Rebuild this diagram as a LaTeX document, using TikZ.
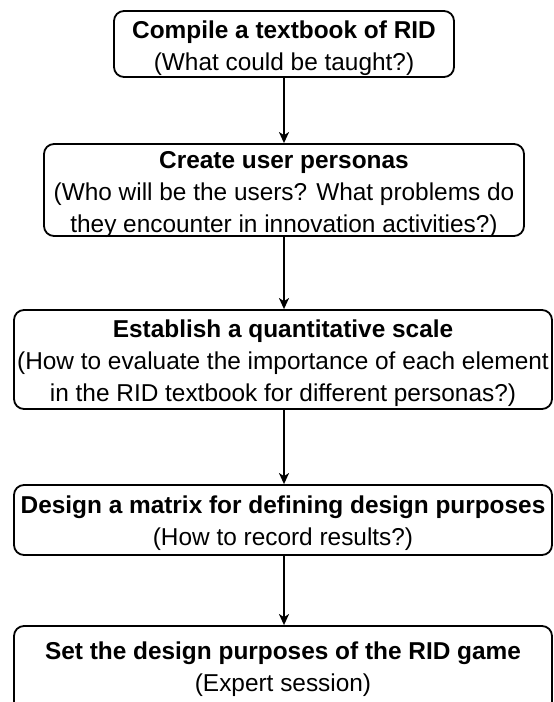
\documentclass[tikz,border=0pt]{standalone}
\usepackage{fontspec}
\setmainfont{Liberation Sans}
\usetikzlibrary{arrows.meta}
\begin{document}
\begin{tikzpicture}[x=1pt,y=1pt,
  stepbox/.style={draw=black, line width=1.8pt, rounded corners=10pt, inner sep=0pt},
  steptext/.style={inner sep=0pt, align=center, font=\fontsize{24.4pt}{32pt}\selectfont},
  flow/.style={line width=1.8pt, -{Stealth[length=11pt,width=10pt,inset=3pt]}}]
\useasboundingbox (0,0) rectangle (554,-702);
\clip (0,0) rectangle (554,-702);
\node[stepbox, minimum width=340pt, minimum height=66pt] (b1) at (284,-44) {};
\node[stepbox, minimum width=480pt, minimum height=92pt] (b2) at (284,-190) {};
\node[stepbox, minimum width=538pt, minimum height=99pt] (b3) at (283,-359.5) {};
\node[stepbox, minimum width=538pt, minimum height=70pt] (b4) at (283,-520) {};
\node[stepbox, minimum width=538pt, minimum height=92pt] (b5) at (283,-672) {};
\node[steptext] (t1) at ([yshift=-4pt]b1.center)
  {\textbf{Compile a textbook of RID}\\(What could be taught?)};
\node[steptext] (t2) at ([yshift=-5pt]b2.center)
  {\textbf{Create user personas}\\(Who will be the users? What problems do\\they encounter in innovation activities?)};
\node[steptext] (t3) at ([yshift=-4pt]b3.center)
  {\textbf{Establish a quantitative scale}\\(How to evaluate the importance of each element\\in the RID textbook for different personas?)};
\node[steptext] (t4) at ([yshift=-3pt]b4.center)
  {\textbf{Design a matrix for defining design purposes}\\(How to record results?)};
\node[steptext] (t5) at ([yshift=3pt]b5.center)
  {\textbf{Set the design purposes of the RID game}\\(Expert session)};
\draw[flow] (b1.south) -- (b1.south |- b2.north);
\draw[flow] (b2.south) -- (b2.south |- b3.north);
\draw[flow] (b2.south |- b3.south) -- (b2.south |- b4.north);
\draw[flow] (b2.south |- b4.south) -- (b2.south |- b5.north);
\end{tikzpicture}
\end{document}
